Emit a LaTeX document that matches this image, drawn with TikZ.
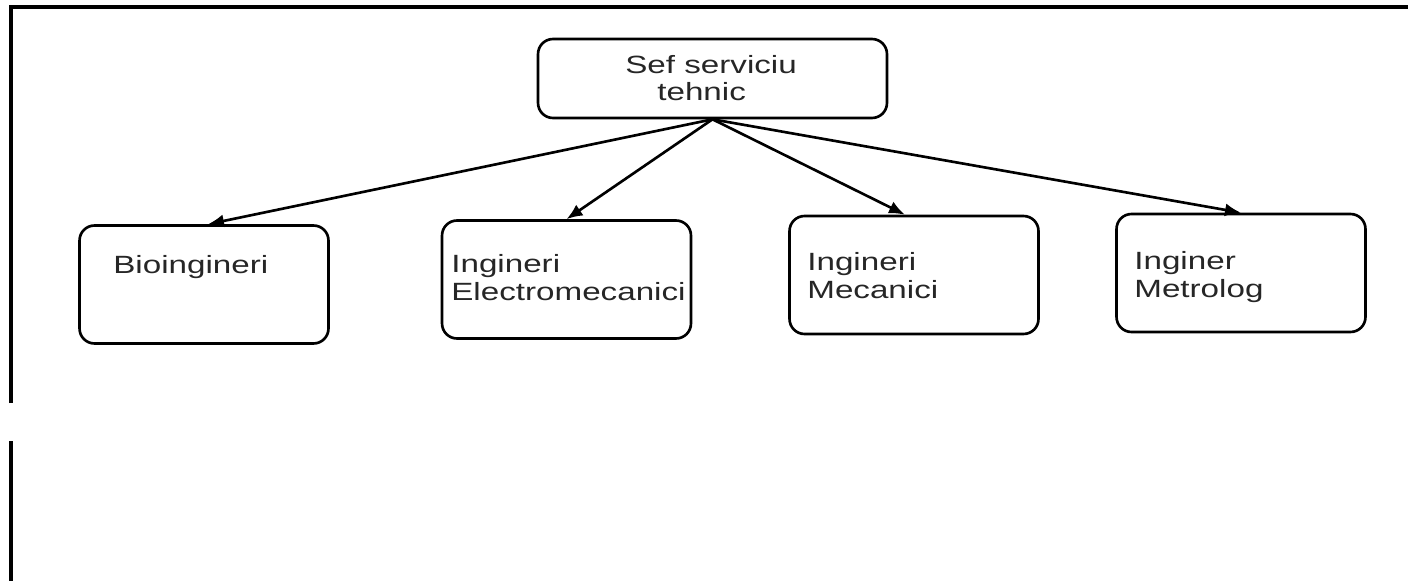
\documentclass[tikz,border=0pt]{standalone}
\usepackage{fontspec}
\setmainfont{Liberation Sans}[FakeStretch=1.33]
\usetikzlibrary{arrows.meta}

\begin{document}
\begin{tikzpicture}[x=0.02cm, y=-0.02cm,
  box/.style={draw, line width=1.5pt, rounded corners=0.3cm,
    minimum width=4.98cm, minimum height=2.36cm, inner sep=0pt},
  lbl/.style={anchor=base west, inner sep=0pt, align=left,
    text=black!85, font=\fontsize{14.2}{15.4}\selectfont},
  link/.style={line width=1.5pt, -{Latex[length=0.32cm, width=0.26cm]}}]
\useasboundingbox (0,0) rectangle (1408,581);

\coordinate (c0) at (712.5, 78.5);
\coordinate (c1) at (204, 284.5);
\coordinate (c2) at (566.5, 279.5);
\coordinate (c3) at (914, 275);
\coordinate (c4) at (1241, 273);

% frame
\draw[line width=1.8pt] (11,403) -- (11,7) -- (1408,7);
\draw[line width=1.8pt] (11,441) -- (11,581);

% boxes
\node[box, minimum width=6.98cm, minimum height=1.58cm] (sef) at (c0) {};
\node[box] (bio) at (c1) {};
\node[box] (elm) at (c2) {};
\node[box] (mec) at (c3) {};
\node[box] (met) at (c4) {};

% labels (base = last line)
\node[lbl] (sefa) at (625,73) {Sef serviciu};
\node[lbl] (sefb) at (657,100) {tehnic};
\node[lbl] (bioa) at (113,273) {Bioingineri};
\node[lbl] (elma) at (451,300) {Ingineri\\Electromecanici};
\node[lbl] (meca) at (807,298) {Ingineri\\Mecanici};
\node[lbl] (meta) at (1134,297) {Inginer\\Metrolog};

% links
\draw[link] (sef.south) -- ([xshift=0.08cm]bio.north);
\draw[link] (sef.south) -- (elm.north);
\draw[link] (sef.south) -- ([xshift=-0.18cm]mec.north);
\draw[link] (sef.south) -- (met.north);
\end{tikzpicture}
\end{document}
